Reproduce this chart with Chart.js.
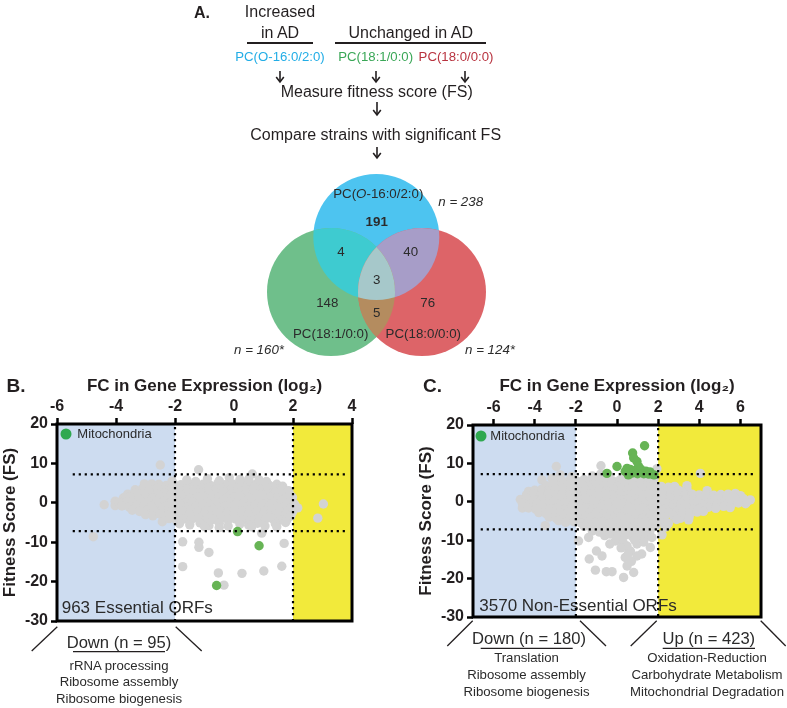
<!DOCTYPE html>
<html><head><meta charset="utf-8">
<script src="https://cdn.jsdelivr.net/npm/chart.js@4.4.0/dist/chart.umd.min.js"></script>
<style>
body{margin:0;background:#fff;}
#fig{position:relative;width:787px;height:708px;overflow:hidden;font-family:"Liberation Sans",Arial,sans-serif;color:#231f20;background:#fff;}
.t{position:absolute;white-space:nowrap;transform:translate(-50%,-50%);line-height:1;}
canvas{position:absolute;}
svg{position:absolute;left:0;top:0;}
</style></head><body>
<div id="fig">
<canvas id="venn" width="300" height="200" style="left:240px;top:165px"></canvas>
<canvas id="chartB" width="390" height="275" style="left:0px;top:360px"></canvas>
<canvas id="chartC" width="371" height="275" style="left:416px;top:360px"></canvas>
<svg id="lines" width="787" height="708"></svg>
</div>
<script>
// ---------------- DATA ----------------
const lipids = ['PC(<i>O</i>-16:0/2:0)', 'PC(18:1/0:0)', 'PC(18:0/0:0)'];
const lipidTotals = ['238', '160*', '124*'];
// Venn region counts: O16 only, O16&18:1, O16&18:0, all, 18:1 only, 18:0 only, 18:1&18:0
const vennRegionLabels = ['191', '4', '40', '3', '148', '76', '5'];

const fcTicksB = [-6, -4, -2, 0, 2, 4];
const fcTicksC = [-6, -4, -2, 0, 2, 4, 6];
const fsTicks = [20, 10, 0, -10, -20, -30];
const fcRangeB = [-6, 4];
const fcRangeC = [-7, 7];
const fsRange = [-30, 20];
const fcThresholds = [-2, 2];
const fsThresholds = [-7.2, 7.2];

const essentialMito = [[0.12,-7.3],[0.85,-10.9],[-0.59,-21.0]];
const essentialOther = [
[-2.5,9.6],[-1.2,8.4],[0.62,7.3],[-0.16,6.4],[0.17,4.9],
[-3.04,4.8],[-2.79,4.8],[-2.55,4.7],[-2.3,4.4],[-2.05,4.8],[-1.8,4.6],[-1.55,4.9],[-1.3,4.5],[-1.05,4.7],[-0.8,4.4],[-0.55,4.9],[-0.3,4.6],[-0.05,4.8],[0.2,4.5],[0.45,5.1],[0.7,4.6],[0.95,4.8],[1.2,4.4],[1.45,4.7],[1.65,4.2],
[-2.1,5.5],[-1.6,5.8],[-1.3,5.4],[-0.5,5.6],[0.2,5.9],[0.85,5.8],[1.1,5.4],[-0.9,6.1],[0.5,6.0],
[-3.35,3.3],[-3.1,3.6],[-2.85,3.4],[-2.6,3.7],[-2.35,3.3],[-2.1,3.6],[-1.85,3.4],[-1.6,3.5],[-1.35,3.2],[-1.1,3.7],[-0.85,3.4],[-0.6,3.6],[-0.35,3.3],[-0.1,3.5],[0.15,3.8],[0.4,3.4],[0.65,3.6],[0.9,3.3],[1.15,3.7],[1.4,3.4],[1.65,3.5],[1.85,3.1],
[-3.6,2.2],[-3.35,2.5],[-3.1,2.3],[-2.85,2.6],[-2.6,2.2],[-2.35,2.5],[-2.1,2.3],[-1.85,2.4],[-1.6,2.6],[-1.35,2.2],[-1.1,2.5],[-0.85,2.3],[-0.6,2.4],[-0.35,2.7],[-0.1,2.2],[0.15,2.5],[0.4,2.3],[0.65,2.6],[0.9,2.2],[1.15,2.4],[1.4,2.6],[1.65,2.3],[1.9,2.0],
[-3.75,1.2],[-3.66,1.55],[-3.5,1.5],[-3.25,1.1],[-3.0,1.4],[-2.75,1.2],[-2.5,1.5],[-2.25,1.3],[-2.0,1.1],[-1.75,1.4],[-1.5,1.2],[-1.25,1.5],[-1.0,1.3],[-0.75,1.1],[-0.5,1.4],[-0.25,1.2],[0.0,1.5],[0.25,1.3],[0.5,1.1],[0.75,1.4],[1.0,1.2],[1.25,1.5],[1.5,1.3],[1.75,1.1],[1.98,1.4],
[-4.4,-0.5],[-4.03,0.4],[-4.03,-0.7],[-3.9,0.1],[-3.65,0.3],[-3.4,0.0],[-3.15,0.4],[-2.9,0.2],[-2.65,-0.1],[-2.4,0.3],[-2.15,0.1],[-1.9,0.4],[-1.65,0.0],[-1.4,0.2],[-1.15,0.3],[-0.9,0.1],[-0.65,-0.1],[-0.4,0.3],[-0.15,0.2],[0.1,0.0],[0.35,0.4],[0.6,0.1],[0.85,0.3],[1.1,-0.1],[1.35,0.2],[1.6,0.4],[1.85,0.0],[2.05,-0.3],
[-3.8,-0.8],[-3.55,-1.1],[-3.3,-0.7],[-3.05,-1.0],[-2.8,-0.9],[-2.55,-1.2],[-2.3,-0.8],[-2.05,-1.0],[-1.8,-0.7],[-1.55,-1.1],[-1.3,-0.9],[-1.05,-0.7],[-0.8,-1.0],[-0.55,-1.2],[-0.3,-0.8],[-0.05,-1.0],[0.2,-0.9],[0.45,-1.1],[0.7,-0.7],[0.95,-1.0],[1.2,-0.8],[1.45,-1.1],[1.7,-0.9],[1.95,-1.2],
[-3.45,-1.9],[-3.2,-2.2],[-2.95,-1.8],[-2.7,-2.1],[-2.45,-2.0],[-2.2,-2.3],[-1.95,-1.9],[-1.7,-2.1],[-1.45,-1.8],[-1.2,-2.2],[-0.95,-2.0],[-0.7,-1.8],[-0.45,-2.1],[-0.2,-2.3],[0.05,-1.9],[0.3,-2.1],[0.55,-1.8],[0.8,-2.2],[1.05,-2.0],[1.3,-1.9],[1.55,-2.2],[1.8,-2.0],[1.98,-2.4],
[-3.0,-3.0],[-2.75,-3.3],[-2.5,-2.9],[-2.25,-3.2],[-2.0,-3.1],[-1.75,-3.4],[-1.5,-3.0],[-1.25,-3.2],[-1.0,-2.9],[-0.75,-3.3],[-0.5,-3.1],[-0.25,-2.9],[0.0,-3.2],[0.25,-3.4],[0.5,-3.0],[0.75,-3.2],[1.0,-2.9],[1.25,-3.3],[1.5,-3.1],[1.75,-2.9],[1.92,-3.4],
[-2.43,-4.8],[-2.2,-4.0],[-1.95,-4.4],[-1.7,-4.1],[-1.45,-4.3],[-1.2,-4.0],[-0.95,-4.5],[-0.7,-4.2],[-0.45,-4.0],[-0.2,-4.4],[0.05,-4.1],[0.3,-4.3],[0.55,-4.6],[0.8,-4.1],[1.05,-4.3],[1.3,-4.0],[1.55,-4.4],[1.8,-4.2],
[-1.85,-5.3],[-1.5,-5.6],[-1.15,-5.1],[-0.85,-5.8],[-0.5,-5.2],[-0.2,-5.9],[0.2,-5.4],[0.5,-5.7],[0.8,-5.2],[1.05,-5.9],[1.4,-5.3],[1.75,-5.0],
[-1.0,-6.0],[-0.5,-6.3],[0.6,-6.1],[1.45,-6.1],[0.94,-7.7],
[2.16,-1.3],[2.84,-3.9],[3.03,-0.3],
[-4.77,-8.6],[-1.74,-9.9],[-1.19,-10.0],[-1.19,-11.3],[-0.85,-12.6],[-1.74,-16.2],[-0.53,-17.8],[0.27,-17.9],[1.01,-17.3],[1.62,-16.1],[1.7,-10.3],[-0.34,-20.9]
];

const nonEssentialMito = [
[1.34,14.6],[0.76,12.7],[0.81,11.4],[0.97,10.5],[1.05,9.2],[0.0,9.2],[0.49,8.7],[0.65,8.4],[0.9,8.2],[1.15,8.5],[1.4,8.0],[1.6,7.8],[0.75,7.5],[1.0,7.3],[1.3,7.3],[1.8,7.0],[-0.49,7.4],[0.4,7.9],[1.55,7.2],[0.55,7.0]
];
const nonEssentialOther = [
[-2.95,9.2],[-2.76,7.0],[-3.65,5.7],[-3.16,6.1],[-0.78,9.4],[1.94,8.6],[4.05,7.4],[3.4,4.2],[-4.3,2.7],[-4.6,-1.6],
[-3.0,5.6],[-2.65,5.3],[-2.3,5.7],[-1.95,5.4],[-1.6,5.8],[-1.25,5.3],[-0.9,5.6],[-0.55,5.9],[-0.2,5.4],[0.15,5.7],[0.5,5.5],[0.85,5.8],[1.2,5.4],[1.55,5.6],[1.8,6.0],
[-1.2,6.7],[-0.4,6.9],[0.3,6.5],[1.0,6.4],[1.6,6.7],[-2.2,6.6],[-0.8,7.2],
[-3.45,4.2],[-3.1,4.5],[-2.75,4.1],[-2.4,4.4],[-2.05,4.2],[-1.7,4.5],[-1.35,4.1],[-1.0,4.4],[-0.65,4.2],[-0.3,4.6],[0.05,4.1],[0.4,4.4],[0.75,4.2],[1.1,4.5],[1.45,4.1],[1.8,4.4],[2.15,4.0],[2.5,3.8],[2.8,4.0],
[-4.0,3.0],[-3.65,3.3],[-3.3,2.9],[-2.95,3.2],[-2.6,3.0],[-2.25,3.3],[-1.9,2.9],[-1.55,3.2],[-1.2,3.0],[-0.85,3.3],[-0.5,2.9],[-0.15,3.2],[0.2,3.0],[0.55,3.3],[0.9,2.9],[1.25,3.2],[1.6,3.0],[1.95,3.3],[2.3,2.9],[2.65,3.2],[3.0,3.0],[3.4,3.3],[3.2,2.5],[4.38,2.9],
[-4.4,1.8],[-4.05,2.1],[-3.7,1.7],[-3.35,2.0],[-3.0,1.8],[-2.65,2.1],[-2.3,1.7],[-1.95,2.0],[-1.6,1.8],[-1.25,2.1],[-0.9,1.7],[-0.55,2.0],[-0.2,1.8],[0.15,2.1],[0.5,1.7],[0.85,2.0],[1.2,1.8],[1.55,2.1],[1.9,1.7],[2.25,2.0],[2.6,1.8],[2.95,2.1],[3.3,1.7],[3.65,2.0],[4.0,1.8],[4.35,2.1],[4.7,1.7],[5.05,1.9],[5.4,2.0],[5.75,2.2],[6.0,1.6],
[-4.7,0.6],[-4.35,0.9],[-4.0,0.5],[-3.65,0.8],[-3.3,0.6],[-2.95,0.9],[-2.6,0.5],[-2.25,0.8],[-1.9,0.6],[-1.55,0.9],[-1.2,0.5],[-0.85,0.8],[-0.5,0.6],[-0.15,0.9],[0.2,0.5],[0.55,0.8],[0.9,0.6],[1.25,0.9],[1.6,0.5],[1.95,0.8],[2.3,0.6],[2.65,0.9],[3.0,0.5],[3.35,0.8],[3.7,0.6],[4.05,0.9],[4.4,0.5],[4.75,0.8],[5.1,0.6],[5.45,0.9],[5.8,0.6],[6.15,0.8],[6.48,0.5],[5.3,1.3],[4.9,1.2],
[-4.6,-0.4],[-4.25,-0.7],[-3.9,-0.3],[-3.55,-0.6],[-3.2,-0.4],[-2.85,-0.7],[-2.5,-0.3],[-2.15,-0.6],[-1.8,-0.4],[-1.45,-0.7],[-1.1,-0.3],[-0.75,-0.6],[-0.4,-0.4],[-0.05,-0.7],[0.3,-0.3],[0.65,-0.6],[1.0,-0.4],[1.35,-0.7],[1.7,-0.3],[2.05,-0.6],[2.4,-0.4],[2.75,-0.7],[3.1,-0.3],[3.45,-0.6],[3.8,-0.4],[4.15,-0.7],[4.5,-0.3],[4.85,-0.6],[5.2,-0.4],[5.55,-0.7],[5.9,-0.3],[6.25,-0.5],[6.3,-0.1],
[-4.3,-1.6],[-3.95,-1.9],[-3.6,-1.5],[-3.25,-1.8],[-2.9,-1.6],[-2.55,-1.9],[-2.2,-1.5],[-1.85,-1.8],[-1.5,-1.6],[-1.15,-1.9],[-0.8,-1.5],[-0.45,-1.8],[-0.1,-1.6],[0.25,-1.9],[0.6,-1.5],[0.95,-1.8],[1.3,-1.6],[1.65,-1.9],[2.0,-1.5],[2.35,-1.8],[2.7,-1.6],[3.05,-1.9],[3.4,-1.5],[3.75,-1.8],[4.1,-1.6],[4.45,-1.4],[4.8,-1.7],[5.18,-1.2],[5.5,-1.5],
[-3.8,-2.8],[-3.45,-3.1],[-3.1,-2.7],[-2.75,-3.0],[-2.4,-2.8],[-2.05,-3.1],[-1.7,-2.7],[-1.35,-3.0],[-1.0,-2.8],[-0.65,-3.1],[-0.3,-2.7],[0.05,-3.0],[0.4,-2.8],[0.75,-3.1],[1.1,-2.7],[1.45,-3.0],[1.8,-2.8],[2.15,-3.1],[2.5,-2.7],[2.85,-3.0],[3.2,-2.8],[3.55,-3.1],[3.9,-2.7],[4.2,-2.5],[3.9,-2.2],
[-3.3,-4.0],[-2.95,-4.3],[-2.6,-3.9],[-2.25,-4.2],[-1.9,-4.0],[-1.55,-4.3],[-1.2,-3.9],[-0.85,-4.2],[-0.5,-4.0],[-0.15,-4.3],[0.2,-3.9],[0.55,-4.2],[0.9,-4.0],[1.25,-4.3],[1.6,-3.9],[1.95,-4.2],[2.3,-4.0],[2.74,-3.6],[3.08,-4.3],[3.48,-4.7],[3.5,-4.0],[2.9,-4.6],
[-3.49,-6.2],[-2.84,-4.9],[-2.5,-5.4],[-2.1,-5.2],[-1.75,-5.5],[-1.4,-5.1],[-1.05,-5.4],[-0.7,-5.2],[-0.35,-5.5],[0.0,-5.1],[0.35,-5.4],[0.7,-5.2],[1.05,-5.5],[1.4,-5.1],[1.75,-5.4],[2.1,-5.2],[2.5,-5.6],
[-1.6,-6.4],[-1.25,-6.7],[-0.9,-6.3],[-0.55,-6.6],[-0.2,-6.4],[0.15,-6.7],[0.5,-6.3],[0.85,-6.6],[1.2,-6.4],[1.55,-6.7],[1.9,-6.3],[2.35,-6.6],[2.43,-6.1],
[-1.2,-7.6],[-0.85,-7.9],[-0.5,-7.5],[-0.15,-7.8],[0.2,-7.6],[0.55,-7.9],[0.9,-7.5],[1.25,-7.8],[1.6,-7.6],[2.19,-8.6],
[-0.6,-8.8],[-0.33,-8.4],[0.05,-9.0],[0.4,-8.7],[0.75,-9.1],[1.1,-8.8],[1.37,-9.3],[1.7,-9.3],
[-1.87,-10.2],[-1.38,-9.3],[-1.35,-14.9],[-1.0,-12.8],[-0.73,-14.1],[-1.05,-17.8],[-0.52,-18.2],[-0.24,-18.2],[0.32,-19.7],[0.81,-18.4],[0.49,-16.7],[0.4,-14.5],[0.97,-14.1],[1.2,-13.6],[1.62,-11.9],[-0.08,-10.2],[0.49,-11.5],[0.97,-11.0],[0.65,-12.8],[0.3,-10.6],[0.7,-15.5],[0.55,-13.5],[0.2,-12.0],[-0.35,-11.0],[1.3,-10.5],[0.85,-9.9]
];

// ---------------- STYLE / LAYOUT ----------------
const FONT = '"Liberation Sans", Arial, sans-serif';
Chart.defaults.font.family = FONT;
const GREY = '#d3d3d3', GREEN = '#67b455', LEGEND_GREEN = '#2fa84f';
const DOWN_BG = '#cddcf0', UP_BG = '#f2ea3b';
const fig = document.getElementById('fig');

function addText(html, cx, cy, css) {
  const d = document.createElement('div');
  d.className = 't';
  d.innerHTML = html;
  d.style.left = cx + 'px';
  d.style.top = cy + 'px';
  d.style.cssText += css || '';
  fig.appendChild(d);
}

// ---------------- PANEL A TEXT ----------------
addText('A.', 202, 13, 'font-size:16px;font-weight:bold;');
addText('Increased', 280, 12, 'font-size:16px;');
addText('in AD', 280, 33, 'font-size:16px;');
addText('Unchanged in AD', 410.7, 33, 'font-size:16px;');
const lipidColors = ['#22ade6', '#3aa757', '#b8333f'];
const lipidTopX = [280, 375.7, 456];
lipids.forEach((l, i) => addText(l.replace(/<\/?i>/g, ''), lipidTopX[i], 57, 'font-size:13.2px;color:' + lipidColors[i] + ';'));
addText('Measure fitness score (FS)', 376.7, 92, 'font-size:16px;');
addText('Compare strains with significant FS', 375.7, 135, 'font-size:16px;');

// Venn labels
const vennRegionPos = [[376.7,221.7],[341,251.7],[410.7,251.7],[376.7,280],[327.3,302.7],[427.7,302.7],[376.7,313.3]];
vennRegionLabels.forEach((v, i) => addText(i === 0 ? '<b>' + v + '</b>' : v, vennRegionPos[i][0], vennRegionPos[i][1], 'font-size:13.3px;color:#2b2b2b;'));
const vennNamePos = [[378.3,194.3],[330.7,334.3],[423.3,334.3]];
lipids.forEach((l, i) => addText(l, vennNamePos[i][0], vennNamePos[i][1], 'font-size:13.3px;color:#2b2b2b;'));
const vennTotalPos = [[460.7,201.7],[259,350],[490,350]];
lipidTotals.forEach((n, i) => addText('<i>n = ' + n + '</i>', vennTotalPos[i][0], vennTotalPos[i][1], 'font-size:13.3px;color:#2b2b2b;'));

// Panel B / C labels and annotations
addText('B.', 16, 385, 'font-size:19px;font-weight:bold;');
addText('C.', 432.5, 385, 'font-size:19px;font-weight:bold;');
addText('Down (n = 95)', 119, 642.5, 'font-size:16.6px;color:#2b2b2b;');
['rRNA processing', 'Ribosome assembly', 'Ribosome biogenesis'].forEach((s, i) => addText(s, 119, 665.5 + i * 16.7, 'font-size:13.2px;color:#2b2b2b;'));
addText('Down (n = 180)', 529, 639.3, 'font-size:16.6px;color:#2b2b2b;');
['Translation', 'Ribosome assembly', 'Ribosome biogenesis'].forEach((s, i) => addText(s, 526.5, 658.3 + i * 16.7, 'font-size:13.2px;color:#2b2b2b;'));
addText('Up (n = 423)', 708.8, 639.3, 'font-size:16.6px;color:#2b2b2b;');
['Oxidation-Reduction', 'Carbohydrate Metabolism', 'Mitochondrial Degradation'].forEach((s, i) => addText(s, 707, 658.3 + i * 16.7, 'font-size:13.2px;color:#2b2b2b;'));

// SVG lines: underlines, arrows, brackets
(function () {
  let s = '';
  const L = (x1, y1, x2, y2, w) => s += `<line x1="${x1}" y1="${y1}" x2="${x2}" y2="${y2}" stroke="#231f20" stroke-width="${w || 1.6}"/>`;
  const A = (x, y1, y2) => { L(x, y1, x, y2, 1.6); s += `<polyline points="${x-3.8},${y2-5} ${x},${y2} ${x+3.8},${y2-5}" fill="none" stroke="#231f20" stroke-width="1.6"/>`; };
  L(247, 43, 313, 43, 1.8); L(335, 43, 486, 43, 1.8);
  A(280, 71, 82); A(376, 71, 82); A(465, 71, 82); A(377, 102, 115); A(377, 147, 158);
  L(57.3, 626.7, 31.7, 651, 1.3); L(175.7, 626.7, 201.7, 651, 1.3); L(73, 651.7, 165, 651.7, 1.3);
  L(472.7, 620.7, 447.3, 646, 1.3); L(580, 620.7, 606, 646, 1.3); L(656.7, 620.7, 630.7, 646, 1.3); L(760.7, 620.7, 785.7, 646, 1.3);
  L(480.7, 648.3, 572.7, 648.3, 1.3); L(662.7, 648.3, 755, 648.3, 1.3);
  document.getElementById('lines').innerHTML = s;
})();

// ---------------- VENN (bubble chart) ----------------
const vennLayout = [{x:136.3,y:72,r:63},{x:91,y:127,r:64},{x:182,y:127,r:64}];
const vennColors = ['#4dc4f0', '#6fbf8b', '#dd6468'];
const vennPairColors = [[0,1,'#3ecbd0'],[0,2,'#a79dc8'],[1,2,'#b48c5f']];
const vennTripleColor = '#a6c8ca';
const overlapPlugin = {
  id: 'overlaps',
  afterDatasetsDraw(chart) {
    const ctx = chart.ctx;
    const els = chart.getDatasetMeta(0).data;
    const circ = e => { ctx.beginPath(); ctx.arc(e.x, e.y, e.options.radius, 0, Math.PI * 2); };
    vennPairColors.forEach(([i, j, c]) => {
      ctx.save(); circ(els[i]); ctx.clip(); circ(els[j]); ctx.fillStyle = c; ctx.fill(); ctx.restore();
    });
    ctx.save(); circ(els[0]); ctx.clip(); circ(els[1]); ctx.clip(); circ(els[2]); ctx.fillStyle = vennTripleColor; ctx.fill(); ctx.restore();
  }
};
new Chart(document.getElementById('venn'), {
  type: 'bubble',
  data: { datasets: [{ data: vennLayout, backgroundColor: vennColors, borderWidth: 0, hoverRadius: 0, clip: false }] },
  options: {
    responsive: false, animation: false, events: [],
    layout: { padding: 0, autoPadding: false },
    plugins: { legend: { display: false }, tooltip: { enabled: false } },
    scales: { x: { display: false, min: 0, max: 300 }, y: { display: false, min: 0, max: 200, reverse: true } }
  },
  plugins: [overlapPlugin]
});

// ---------------- SCATTER PANELS ----------------
function panelPlugin(p) {
  return {
    id: 'panelDeco',
    beforeDatasetsDraw(chart) {
      const { ctx, chartArea: a, scales: { x } } = chart;
      const xd = x.getPixelForValue(fcThresholds[0]);
      const xu = x.getPixelForValue(fcThresholds[1]);
      ctx.save();
      ctx.fillStyle = DOWN_BG; ctx.fillRect(a.left, a.top, xd - a.left, a.bottom - a.top);
      ctx.fillStyle = UP_BG; ctx.fillRect(xu, a.top, a.right - xu, a.bottom - a.top);
      ctx.fillStyle = LEGEND_GREEN;
      ctx.beginPath(); ctx.arc(a.left + p.dotDx, a.top + p.dotDy, 5.5, 0, Math.PI * 2); ctx.fill();
      ctx.fillStyle = '#2b2b2b'; ctx.textBaseline = 'middle'; ctx.textAlign = 'left';
      ctx.font = '13px ' + FONT;
      ctx.fillText('Mitochondria', a.left + p.legDx, a.top + p.dotDy + 0.5);
      ctx.font = '17px ' + FONT;
      ctx.fillText(p.label, a.left + p.labDx, a.bottom - p.labDy);
      ctx.restore();
    },
    afterDatasetsDraw(chart) {
      const { ctx, chartArea: a, scales: { x, y } } = chart;
      ctx.save();
      ctx.strokeStyle = '#000'; ctx.lineWidth = 2.2; ctx.setLineDash([2.2, 3.8]);
      fcThresholds.forEach(v => { const px = x.getPixelForValue(v); ctx.beginPath(); ctx.moveTo(px, a.top + 3); ctx.lineTo(px, a.bottom); ctx.stroke(); });
      fsThresholds.forEach(v => { const py = y.getPixelForValue(v); ctx.beginPath(); ctx.moveTo(a.left + p.hInsetL, py); ctx.lineTo(a.right - 5, py); ctx.stroke(); });
      ctx.setLineDash([]); ctx.lineWidth = 3; ctx.strokeRect(a.left, a.top, a.right - a.left, a.bottom - a.top);
      ctx.restore();
    }
  };
}

function makePanel(id, other, mito, fcRange, fcTicks, dims, p) {
  const toXY = arr => arr.map(([x, y]) => ({ x, y }));
  return new Chart(document.getElementById(id), {
    type: 'scatter',
    data: { datasets: [
      { label: 'Mitochondria', data: toXY(mito), backgroundColor: GREEN, pointRadius: 4.7, borderWidth: 0 },
      { label: 'Other', data: toXY(other), backgroundColor: GREY, pointRadius: 4.7, borderWidth: 0 }
    ] },
    options: {
      responsive: false, animation: false, events: [],
      layout: { padding: dims.padding },
      plugins: { legend: { display: false }, tooltip: { enabled: false } },
      scales: {
        x: {
          type: 'linear', position: 'top', min: fcRange[0], max: fcRange[1],
          afterBuildTicks: s => { s.ticks = fcTicks.map(v => ({ value: v })); },
          afterFit: s => { s.height = dims.xh; },
          ticks: { color: '#231f20', font: { size: 16, weight: 'bold' }, padding: 2, maxRotation: 0 },
          grid: { drawOnChartArea: false, drawTicks: true, tickLength: 6, tickWidth: 2.5, tickColor: '#000' },
          border: { display: false },
          title: { display: true, text: 'FC in Gene Expression (log\u2082)', color: '#231f20', font: { size: 17, weight: 'bold' }, padding: 0 }
        },
        y: {
          type: 'linear', position: 'left', min: fsRange[0], max: fsRange[1],
          afterBuildTicks: s => { s.ticks = fsTicks.map(v => ({ value: v })); },
          afterFit: s => { s.width = dims.yw; },
          ticks: { color: '#231f20', font: { size: 16, weight: 'bold' }, padding: 3 },
          grid: { drawOnChartArea: false, drawTicks: true, tickLength: 6, tickWidth: 2.5, tickColor: '#000' },
          border: { display: false },
          title: { display: true, text: 'Fitness Score (FS)', color: '#231f20', font: { size: 17, weight: 'bold' }, padding: 0 }
        }
      }
    },
    plugins: [panelPlugin(p)]
  });
}

makePanel('chartB', essentialOther, essentialMito, fcRangeB, fcTicksB,
  { padding: { top: 16, left: 0, right: 38, bottom: 14 }, xh: 48, yw: 57 },
  { label: '963 Essential ORFs', dotDx: 9, dotDy: 10, legDx: 20.3, labDx: 4.7, labDy: 12.3, hInsetL: 15.7 });
makePanel('chartC', nonEssentialOther, nonEssentialMito, fcRangeC, fcTicksC,
  { padding: { top: 16, left: 0, right: 26, bottom: 18 }, xh: 49, yw: 57 },
  { label: '3570 Non-Essential ORFs', dotDx: 8, dotDy: 11, legDx: 17.3, labDx: 6.3, labDy: 10.3, hInsetL: 7.7 });
</script>
</body></html>
